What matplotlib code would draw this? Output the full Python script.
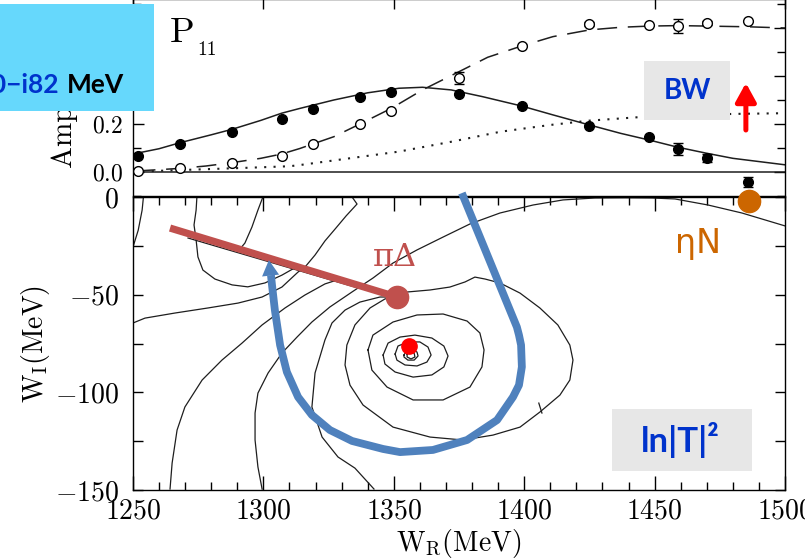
import numpy as np
import matplotlib
matplotlib.use('Agg')
import matplotlib.pyplot as plt
from matplotlib.patches import Rectangle
from matplotlib.ticker import MultipleLocator, FuncFormatter

plt.rcParams['font.family'] = 'serif'
plt.rcParams['font.serif'] = ['cmr10']
plt.rcParams['mathtext.fontset'] = 'cm'
plt.rcParams['axes.linewidth'] = 1.0

# ---------------- top panel: amplitudes ----------------
w_data = [1252, 1268, 1288, 1307, 1319, 1337, 1349, 1375, 1399, 1425, 1448, 1459, 1470, 1486]
amp_filled = [0.067, 0.117, 0.167, 0.221, 0.263, 0.313, 0.333, 0.325, 0.275, 0.192, 0.146, 0.096, 0.058, -0.042]
err_filled = [0, 0, 0, 0, 0, 0, 0, 0, 0, 0, 0, 0.025, 0.015, 0.02]
amp_open = [0.004, 0.017, 0.0375, 0.067, 0.117, 0.200, 0.254, 0.392, 0.525, 0.617, 0.612, 0.608, 0.621, 0.629]
err_open = [0, 0, 0, 0, 0, 0, 0, 0.025, 0, 0.01, 0, 0.03, 0.01, 0]

w_solid = [1250, 1260, 1268, 1280, 1288, 1299, 1307, 1314, 1327, 1340, 1352, 1361, 1372, 1384, 1399, 1411, 1425, 1437, 1448, 1459, 1470, 1480, 1500]
amp_solid = [0.075, 0.097, 0.122, 0.155, 0.178, 0.215, 0.245, 0.265, 0.300, 0.330, 0.349, 0.353, 0.342, 0.314, 0.275, 0.238, 0.196, 0.161, 0.133, 0.103, 0.078, 0.057, 0.030]

w_dash = [1251, 1268, 1278, 1288, 1299, 1307, 1314, 1319, 1327, 1337, 1349, 1361, 1375, 1386, 1399, 1411, 1425, 1437, 1448, 1459, 1470, 1486, 1500]
amp_dash = [0.004, 0.015, 0.025, 0.039, 0.057, 0.075, 0.098, 0.117, 0.147, 0.200, 0.265, 0.342, 0.418, 0.478, 0.525, 0.564, 0.592, 0.603, 0.608, 0.610, 0.608, 0.605, 0.600]

w_dot = [1250, 1260, 1276, 1295, 1310, 1314, 1333, 1352, 1372, 1391, 1410, 1425, 1446, 1480, 1500]
amp_dot = [0.0, 0.005, 0.011, 0.018, 0.024, 0.029, 0.057, 0.085, 0.126, 0.168, 0.196, 0.214, 0.230, 0.242, 0.245]

amp_tick_labels = [0.0, 0.2]   # the others sit under the blue label box

# ---------------- bottom panel: ln|T|^2 contours (W_R, W_I) ----------------
contour_a = [(1254, 0), (1253.5, -6.7), (1252, -17), (1250, -25.6)]
contour_b = [(1274.5, 0), (1274.2, -6.7), (1273.4, -14.3), (1274.2, -22), (1274.9, -30.7), (1276.8, -37.4),
             (1281.4, -42), (1288, -45), (1294, -46), (1300.6, -44), (1307.1, -40), (1313.3, -35.3)]
contour_c = [(1299.8, 0), (1297.9, -6.7), (1295.6, -15.4), (1292.9, -23.6), (1291, -26.6)]
contour_e = [(1250, -64.5), (1254.6, -62), (1266.1, -59.4), (1278.8, -56.8), (1290.3, -54.3), (1299.5, -51.2),
             (1307.1, -46.1), (1313.3, -38.4), (1316.3, -35.3), (1319.8, -29.7), (1323.6, -22.5), (1327.8, -15.9),
             (1331.7, -9.7), (1335.9, -3.6), (1334, 0)]
contour_g = [(1264.2, -149.5), (1265, -136.2), (1266.9, -119.3), (1269.9, -107.5), (1276.5, -93.7), (1284.1, -83.5),
             (1291.8, -74.8), (1299.5, -65.5), (1308.3, -56.8), (1315.9, -50.2), (1323.6, -44.5), (1329.4, -42)]
contour_arc = [(1299.5, -149.5), (1297.9, -138.2), (1296.8, -124.4), (1296.8, -110.6), (1297.9, -100.4), (1301.8, -90.1),
               (1307.1, -79.9), (1312.9, -71.7), (1318.6, -64), (1325.5, -56.3), (1334, -48.6), (1342, -41.5),
               (1349.7, -33.8), (1358.9, -27.1), (1368.9, -20.5), (1379.2, -13.8), (1390.7, -8.2), (1403.4, -4.1),
               (1414.9, -1.5), (1427.1, -0.5), (1438.6, -0.4), (1449, -0.5), (1457.8, -1), (1470.5, -4.1),
               (1483.5, -8.2), (1500, -14.8)]
contour_h = [(1342.4, -149.5), (1335.1, -138.8), (1328.6, -133.1), (1322.5, -122.9), (1318.6, -107.5), (1319.8, -90.1),
             (1323.6, -73.2), (1326.3, -64.5), (1331.3, -57.9), (1337, -53.8), (1344.7, -51.2), (1349.7, -51.2)]
contour_pd = [(1349.7, -49.7), (1355.4, -48.6), (1363.9, -47.6), (1371.5, -46.1), (1377.3, -43.5), (1381.1, -41),
              (1385, -42), (1390.7, -44), (1398.4, -49.2), (1406, -56.8), (1412.9, -65.5), (1417.5, -75.8),
              (1418.7, -83.5), (1417.5, -93.7), (1413.7, -101.4), (1406, -110.1), (1398.4, -117.8), (1388, -121.9),
              (1376.5, -124.4), (1363.9, -122.9), (1349.7, -117.8), (1338.2, -106.5), (1333.2, -96.3), (1331.3, -86),
              (1332, -75.8), (1335.1, -65.5), (1340.9, -56.8), (1346.6, -52.2), (1349.7, -51.2)]
contour_stub = [(1405.6, -105.5), (1406.8, -110.6)]
contour_under = [(1271.1, -21), (1335.1, -46.1)]
ring4 = [(1340.1, -78.3), (1342, -70.7), (1349.7, -64), (1358.9, -60.4), (1368.9, -59.9), (1378.1, -63.5), (1383, -69.6),
         (1384.6, -78.3), (1383.8, -87), (1379.2, -97.3), (1368.9, -103.9), (1357.4, -103.9), (1347.4, -97.3),
         (1341.6, -88.6), (1340.1, -78.3)]
ring3 = [(1345.9, -80.9), (1347.8, -74.8), (1352.4, -71.7), (1358.1, -70.7), (1364.6, -72.2), (1369.2, -76.3),
         (1370.8, -81.4), (1369.2, -87), (1364.6, -91.1), (1357.4, -92.2), (1350.5, -89.6), (1346.6, -85.5), (1345.9, -80.9)]
ring2 = [(1350.5, -80.4), (1351.6, -76.3), (1355.4, -74.2), (1360, -74.2), (1363.1, -76.8), (1364.3, -80.9),
         (1362.7, -84.5), (1358.9, -86.5), (1354.3, -86), (1351.2, -83.5), (1350.5, -80.4)]
ring1 = [(1353.9, -80.9), (1355.1, -78.3), (1357, -77.8), (1358.9, -79.4), (1359.3, -81.4), (1357.8, -83.5),
         (1355.4, -83.5), (1353.9, -81.9), (1353.9, -80.9)]
ring0 = [(1355.1, -80.4), (1356.2, -79.4), (1357.8, -79.9), (1358.1, -81.9), (1356.6, -82.9), (1355.1, -81.9), (1355.1, -80.4)]
contours = [contour_a, contour_b, contour_c, contour_e, contour_g, contour_arc, contour_h, contour_pd,
            contour_stub, contour_under, ring4, ring3, ring2, ring1, ring0]

# annotations drawn on the pole plane
pi_delta_cut = [(1264.2, -15.9), (1351.2, -51.2)]
blue_path = [(1376.1, 2), (1397.2, -66.6), (1398, -70.7), (1398.8, -75.8), (1399.1, -87), (1398, -96.3), (1395.7, -102.4),
             (1389.6, -114.2), (1378.1, -124.4), (1365, -129.5), (1352.4, -130.6), (1345.9, -129), (1334, -124.9),
             (1325.5, -119.3), (1318.6, -111.6), (1313.3, -102.4), (1309, -89.6), (1306.4, -75.8), (1304.4, -57.9),
             (1303.3, -45.1), (1302.9, -40)]
blue_tip = (1302.1, -32.3)
pole = (1355.8, -76.3)
eta_n = (1486.2, -2)

fig = plt.figure(figsize=(8.05, 5.6), dpi=100)
FW, FH = 805.0, 560.0


def fx(px):
    return px / FW


def fy(py):
    return 1 - py / FH


ax_amp = fig.add_axes([fx(133), fy(196), (785 - 133) / FW, 196.8 / FH])
ax_pole = fig.add_axes([fx(133), fy(490), (785 - 133) / FW, (490 - 197) / FH])

ink = '#1e1e1e'
math_fmt = FuncFormatter(lambda v, p: r'$%g$' % v)
amp_fmt = FuncFormatter(lambda v, p: r'$%.1f$' % v if any(abs(v - t) < 1e-6 for t in amp_tick_labels) else '')
sans = ['Lato', 'DejaVu Sans']

# top panel
ax_amp.plot(w_solid, amp_solid, color=ink, lw=1.1)
ax_amp.plot(w_dash, amp_dash, color=ink, lw=1.1, dashes=(13, 7))
ax_amp.plot(w_dot, amp_dot, color=ink, lw=1.5, dashes=(1, 3.5))
ax_amp.axhline(0, color=ink, lw=1.1)
ef = np.array(err_filled)
eo = np.array(err_open)
wd = np.array(w_data)
ax_amp.errorbar(wd[ef > 0], np.array(amp_filled)[ef > 0], yerr=ef[ef > 0], fmt='none',
                ecolor='black', elinewidth=1, capsize=3.5)
ax_amp.errorbar(wd[eo > 0], np.array(amp_open)[eo > 0], yerr=eo[eo > 0], fmt='none',
                ecolor='black', elinewidth=1, capsize=3.5)
ax_amp.plot(w_data, amp_filled, 'o', ms=7, color='black', zorder=4)
ax_amp.plot(w_data, amp_open, 'o', ms=7, mfc='white', mec='black', mew=1, zorder=4)
ax_amp.set_xlim(1250, 1500)
ax_amp.set_ylim(-0.1, 0.72)
ax_amp.xaxis.set_major_locator(MultipleLocator(50))
ax_amp.yaxis.set_major_locator(MultipleLocator(0.2))
ax_amp.yaxis.set_minor_locator(MultipleLocator(0.1))
ax_amp.yaxis.set_major_formatter(amp_fmt)
ax_amp.tick_params(axis='x', which='both', bottom=False, top=True, labelbottom=False,
                   direction='in', length=7, width=1)
ax_amp.tick_params(axis='y', which='both', left=True, right=True, direction='in', width=1,
                   labelsize=17, pad=7)
ax_amp.tick_params(axis='y', which='major', length=8)
ax_amp.tick_params(axis='y', which='minor', length=6)
ax_amp.annotate('', xy=(1485, 0.371), xytext=(1485, 0.175),
                arrowprops=dict(arrowstyle='-|>,head_length=0.4,head_width=0.22', color='red',
                                lw=3.6, mutation_scale=28, shrinkA=0, shrinkB=0))

# bottom panel
for c in contours:
    xs, ys = np.array(c).T
    ax_pole.plot(xs, ys, color=ink, lw=0.9, zorder=2)

cx, cy = np.array(pi_delta_cut).T
ax_pole.plot(cx, cy, color='#C0504D', lw=5.2, solid_capstyle='butt', zorder=5)
ax_pole.plot(cx[-1], cy[-1], 'o', ms=16, color='#C0504D', zorder=5)
ax_pole.text(1350.5, -31.2, 'πΔ', color='#C0504D', fontsize=23, family='DejaVu Serif',
             ha='center', va='center', zorder=6)

bx, by = np.array(blue_path).T
ax_pole.plot(bx, by, color='#4F81BD', lw=5.6, solid_capstyle='butt', solid_joinstyle='round',
             zorder=5, clip_on=False)
ax_pole.annotate('', xy=blue_tip, xytext=(bx[-1], by[-1] - 2),
                 arrowprops=dict(arrowstyle='-|>,head_length=0.4,head_width=0.22', color='#4F81BD',
                                 lw=0, mutation_scale=28, shrinkA=0, shrinkB=0), zorder=5)

ax_pole.plot(*pole, 'o', ms=11, color='#FF0000', zorder=6)
ax_pole.plot(*eta_n, 'o', ms=16, color='#CC6600', zorder=6, clip_on=False)
ax_pole.text(1466.6, -23.6, 'ηN', color='#CC6600', fontsize=24, family='DejaVu Sans',
             ha='center', va='center', zorder=6)

ax_pole.set_xlim(1250, 1500)
ax_pole.set_ylim(-150, 0)
ax_pole.xaxis.set_major_locator(MultipleLocator(50))
ax_pole.xaxis.set_minor_locator(MultipleLocator(10))
ax_pole.yaxis.set_major_locator(MultipleLocator(50))
ax_pole.yaxis.set_minor_locator(MultipleLocator(25))
ax_pole.xaxis.set_major_formatter(math_fmt)
ax_pole.yaxis.set_major_formatter(math_fmt)
ax_pole.tick_params(which='both', direction='in', top=True, right=True, width=1)
ax_pole.tick_params(axis='x', which='major', length=10, labelsize=20, pad=6)
ax_pole.tick_params(axis='x', which='minor', length=6)
ax_pole.tick_params(axis='y', which='both', length=7, labelsize=20, pad=10)
ax_pole.set_xlabel(r'$\mathrm{W}_\mathrm{R}(\mathrm{MeV})$', fontsize=20, labelpad=2)
ax_pole.set_ylabel(r'$\mathrm{W}_\mathrm{I}(\mathrm{MeV})$', fontsize=20, labelpad=2)

# figure-level labels and boxes
fig.text(fx(182), fy(42), 'P', fontsize=26, ha='center', va='baseline')
fig.text(fx(207), fy(55), '11', fontsize=14, ha='center', va='baseline')
fig.text(fx(64), fy(167), 'Amplitude', rotation=90, fontsize=21, ha='center', va='bottom')

fig.add_artist(Rectangle((0, fy(111)), fx(154), (111 - 4) / FH, transform=fig.transFigure,
                         facecolor='#66D8FC', edgecolor='none', zorder=10))
fig.text(fx(59), fy(93), '1360−i82', color='#0033CC', fontsize=19, fontweight='bold',
         family=sans, ha='right', va='baseline', zorder=11)
fig.text(fx(67), fy(93), 'MeV', color='black', fontsize=19, fontweight='bold',
         family=sans, ha='left', va='baseline', zorder=11)

fig.add_artist(Rectangle((fx(644), fy(120)), (730 - 644) / FW, (120 - 61) / FH, transform=fig.transFigure,
                         facecolor='#E7E7E7', edgecolor='none', zorder=10))
fig.text(fx(687), fy(91), 'BW', color='#0033CC', fontsize=20, fontweight='bold',
         family=sans, ha='center', va='center', zorder=11)

fig.add_artist(Rectangle((fx(612), fy(471)), (752 - 612) / FW, (471 - 409) / FH, transform=fig.transFigure,
                         facecolor='#E7E7E7', edgecolor='none', zorder=10))
fig.text(fx(680), fy(440), 'ln|T|²', color='#0033CC', fontsize=25, fontweight='bold',
         family=sans, ha='center', va='center', zorder=11)

fig.savefig('out.png', dpi=100)
